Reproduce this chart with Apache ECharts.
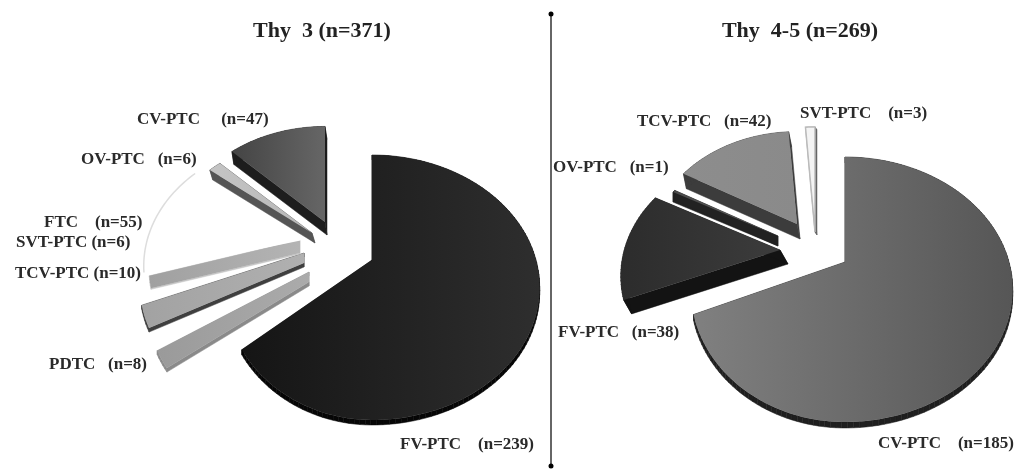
<!DOCTYPE html>
<html>
<head>
<meta charset="utf-8">
<style>html,body{margin:0;padding:0;background:#fff}#chart{width:1014px;height:473px}</style>
<script src="https://cdn.jsdelivr.net/npm/echarts@6/dist/echarts.min.js"></script>
</head>
<body>
<div id="chart"></div>
<script>
// Histotype counts per cytology class, clockwise from twelve o'clock
const thy3Names = ['FV-PTC', 'PDTC', 'TCV-PTC', 'SVT-PTC', 'FTC', 'OV-PTC', 'CV-PTC'];
const thy3Values = [239, 8, 10, 6, 55, 6, 47];
const thy45Names = ['CV-PTC', 'FV-PTC', 'OV-PTC', 'TCV-PTC', 'SVT-PTC'];
const thy45Values = [185, 38, 1, 42, 3];

// Exploded placement of each wedge:
// apex x, apex y, radial scale, scale on the left half, wall depth, wall drift, blunt tip above, blunt tip below
const thy3Layout = [
  [372, 260, 1, 0.88, 5, 0, 0, 0], [309, 282, 0.96, 1, 4, 0, 10, 0], [304, 258, 0.98, 1, 4, 0, 5, 5],
  [300, 245, 0.9, 1, 1, 0, 5, 8], [303, 240, 0.95, 1, 0, 0, 0, 0], [312, 233, 0.9, 1, 10, 3, 0, 0], [325, 222, 0.91, 1, 13, 2, 0, 0]
];
const thy45Layout = [
  [845, 262, 1, 0.92, 6, 0, 0, 0], [780, 250, 0.95, 1, 14, 8, 0, 0], [778, 236, 0.8, 1, 10, 0, 0, 0],
  [797, 224, 0.88, 1, 15, 3, 0, 0], [815, 232, 1, 1, 3, 2, 0, 0]
];

// Face colour on the left, face colour on the right, wall colour, full outline, arc outline
const thy3Colors = [
  ['#151515', '#2e2e2e', '#060606', null, null], ['#9a9a9a', '#ababab', '#8a8a8a', null, null],
  ['#a2a2a2', '#b0b0b0', '#3f3f3f', null, null], ['#a0a0a0', '#b4b4b4', '#c4c4c4', null, null],
  ['#ffffff', '#ffffff', '#ffffff', null, '#dddddd'], ['#c4c4c4', '#b8b8b8', '#555555', null, null],
  ['#444444', '#666666', '#1d1d1d', null, null]
];
const thy45Colors = [
  ['#808080', '#565656', '#1f1f1f', null, null], ['#2c2c2c', '#3c3c3c', '#131313', null, null],
  ['#4a4a4a', '#5e5e5e', '#222222', null, null], ['#8d8d8d', '#8a8a8a', '#3c3c3c', null, null],
  ['#f4f4f4', '#f4f4f4', '#666666', '#bbbbbb', null]
];

// Label strings come from the counts; anchors and name-to-count gaps sit apart
const thy3Gaps = [4, 3, 1, 1, 4, 3, 5];
const thy45Gaps = [4, 3, 3, 3, 4];
const thy3Anchors = [[400, 445], [49, 365], [15, 274], [16, 243], [44, 223], [81, 160], [137, 120]];
const thy45Anchors = [[878, 444], [558, 333], [553, 168], [637, 122], [800, 114]];

// Perspective of the tilted disc
const radius = 164, tilt = 126.8, vanish = 0.2075;

function project(slot, theta) {
  const u = Math.sin(theta), v = -Math.cos(theta), d = 1 - vanish * v;
  const sx = u < 0 ? slot[3] : 1;
  return [slot[0] + radius * slot[2] * sx * u / d, slot[1] + tilt * slot[2] * v / d];
}

function wedgeSeries(values, layout, colors) {
  const total = values.reduce((a, b) => a + b, 0);
  return {
    type: 'custom',
    coordinateSystem: 'none',
    silent: true,
    animation: false,
    data: values.map(v => [v]),
    renderItem(params, api) {
      const i = params.dataIndex;
      const before = values.slice(0, i).reduce((a, b) => a + b, 0);
      const start = before / total * Math.PI * 2;
      const end = (before + api.value(0)) / total * Math.PI * 2;
      const slot = layout[i], col = colors[i], depth = slot[4], drift = slot[5];
      const steps = Math.max(2, Math.ceil((end - start) / 0.03));
      const rim = [];
      for (let k = 0; k <= steps; k++) rim.push(project(slot, start + (end - start) * k / steps));
      const tip = slot[6] || slot[7]
        ? [[slot[0], slot[1] - slot[6]], [slot[0], slot[1] + slot[7]]]
        : [[slot[0], slot[1]]];
      const face = [...tip, ...rim];
      const children = [];
      if (depth > 0) {
        face.forEach((p, k) => {
          const q = face[(k + 1) % face.length];
          children.push({
            type: 'polygon',
            shape: { points: [p, q, [q[0] + drift, q[1] + depth], [p[0] + drift, p[1] + depth]] },
            style: { fill: col[2], stroke: col[2], lineWidth: 0.5 }
          });
        });
      }
      const xs = face.map(p => p[0]);
      children.push({
        type: 'polygon',
        shape: { points: face },
        style: {
          fill: {
            type: 'linear', global: true,
            x: Math.min(...xs), y: 0, x2: Math.max(...xs), y2: 0,
            colorStops: [{ offset: 0, color: col[0] }, { offset: 1, color: col[1] }]
          },
          stroke: col[3] || 'none',
          lineWidth: col[3] ? 1.5 : 0
        }
      });
      if (col[4]) {
        children.push({
          type: 'polyline',
          shape: { points: rim },
          style: { fill: 'none', stroke: col[4], lineWidth: 1.5 }
        });
      }
      return { type: 'group', children };
    }
  };
}

function labelGraphics(names, values, gaps, anchors) {
  return names.map((name, i) => ({
    type: 'text',
    x: anchors[i][0],
    y: anchors[i][1],
    style: {
      text: name + ' '.repeat(gaps[i]) + '(n=' + values[i] + ')',
      font: 'bold 17px "Liberation Serif"',
      fill: '#2a2a2a',
      verticalAlign: 'middle'
    }
  }));
}

const titleStyle = { fontFamily: 'Liberation Serif', fontWeight: 'bold', fontSize: 22, color: '#222' };
const chart = echarts.init(document.getElementById('chart'), null, { renderer: 'canvas' });
chart.setOption({
  backgroundColor: '#fff',
  animation: false,
  title: [
    { text: 'Thy  3 (n=371)', left: 317, top: 15, textAlign: 'center', textStyle: titleStyle },
    { text: 'Thy  4-5 (n=269)', left: 795, top: 15, textAlign: 'center', textStyle: titleStyle }
  ],
  series: [
    wedgeSeries(thy3Values, thy3Layout, thy3Colors),
    wedgeSeries(thy45Values, thy45Layout, thy45Colors)
  ],
  graphic: [
    { type: 'line', shape: { x1: 551, y1: 14, x2: 551, y2: 466 }, style: { stroke: '#666', lineWidth: 2 } },
    { type: 'circle', shape: { cx: 551, cy: 14, r: 2.5 }, style: { fill: '#000' } },
    { type: 'circle', shape: { cx: 551, cy: 466, r: 2.5 }, style: { fill: '#000' } },
    ...labelGraphics(thy3Names, thy3Values, thy3Gaps, thy3Anchors),
    ...labelGraphics(thy45Names, thy45Values, thy45Gaps, thy45Anchors)
  ]
});
</script>
</body>
</html>
